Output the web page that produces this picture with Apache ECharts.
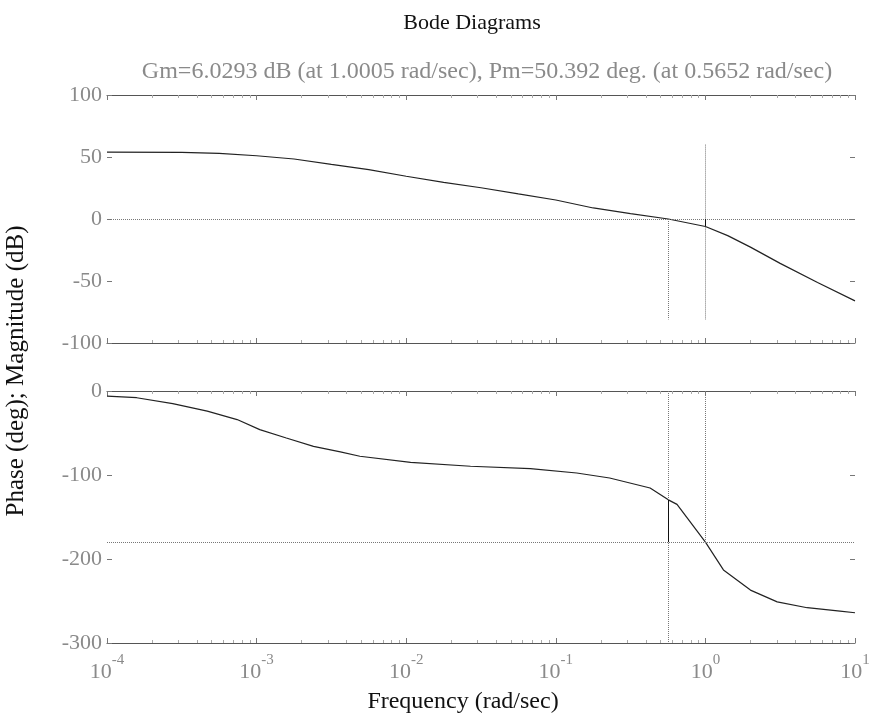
<!DOCTYPE html>
<html>
<head>
<meta charset="utf-8">
<title>Bode Diagrams</title>
<script src="https://cdn.jsdelivr.net/npm/echarts@6/dist/echarts.min.js"></script>
<style>
  html, body { margin: 0; padding: 0; background: #ffffff; }
  #chart { width: 869px; height: 719px; }
</style>
</head>
<body>
<div id="chart"></div>
<script>
  // magnitude curve (rad/sec, dB)
  var magFreq = [0.0001, 0.000316, 0.000562, 0.001, 0.00178, 0.00316, 0.00562, 0.01, 0.0178, 0.0316,
    0.0562, 0.1, 0.178, 0.316, 0.5652, 1.0005, 1.41, 2.0, 3.16, 5.62, 10];
  var magDb = [54, 53.8, 53, 51, 48.4, 44, 39.8, 34.5, 29.6, 25.2,
    20.2, 15.3, 8.9, 4.4, 0, -6.03, -13.4, -22.7, -35.8, -51.2, -66];

  // phase curve (rad/sec, deg)
  var phaseFreq = [0.0001, 0.000158, 0.000275, 0.000468, 0.000741, 0.00105, 0.00158, 0.0024, 0.00363, 0.0049,
    0.0107, 0.0269, 0.0676, 0.138, 0.229, 0.427, 0.5652, 0.646, 1.0005, 1.32,
    2.0, 3.02, 4.79, 7.94, 10];
  var phaseDeg = [-6, -8, -15, -24, -34, -46, -56, -66, -72.5, -77.7,
    -85, -89.6, -92.4, -97.6, -103.6, -115.5, -129.6, -135, -180, -213,
    -237, -251, -258, -262, -264];

  // margins
  var gmFreq = 1.0005, gm = 6.0293;
  var pmFreq = 0.5652, pm = 50.392;
  var magMarkTop = 60, magMarkBottom = -81;

  var serif = '"Liberation Serif", "DejaVu Serif", serif';
  var grey = '#8a8a8a';

  function pairs(xs, ys) {
    var out = [];
    for (var i = 0; i < xs.length; i++) {
      out.push([xs[i], ys[i]]);
    }
    return out;
  }

  var dotted = { type: 'dotted', color: '#777', width: 1 };
  var solid = { type: 'solid', color: '#111', width: 1 };

  function frameAxis(grid, pos, labels) {
    return {
      type: 'log',
      logBase: 10,
      gridIndex: grid,
      position: pos,
      min: 0.0001,
      max: 10,
      axisLine: { show: true, onZero: false, lineStyle: { color: '#555', width: 1 } },
      axisTick: { show: true, inside: true, length: 5, lineStyle: { color: '#777' } },
      minorTick: { show: true, splitNumber: 9, length: 3, lineStyle: { color: '#aaa' } },
      splitLine: { show: false },
      axisLabel: labels ? {
        show: true,
        margin: 10,
        formatter: function (v) {
          return '{b|10}{e|' + Math.round(Math.log10(v)) + '}';
        },
        rich: {
          b: { fontFamily: serif, fontSize: 22, color: grey, lineHeight: 30, verticalAlign: 'bottom' },
          e: { fontFamily: serif, fontSize: 15, color: grey, lineHeight: 15, verticalAlign: 'top' }
        }
      } : { show: false }
    };
  }

  function sideAxis(grid, pos, min, max, step, labels) {
    return {
      type: 'value',
      gridIndex: grid,
      position: pos,
      min: min,
      max: max,
      interval: step,
      axisLine: { show: false },
      axisTick: { show: true, inside: true, length: 5, lineStyle: { color: '#777' } },
      splitLine: { show: false },
      axisLabel: {
        show: labels,
        margin: 5,
        fontFamily: serif,
        fontSize: 22,
        color: grey
      }
    };
  }

  var myChart = echarts.init(document.getElementById('chart'));

  myChart.setOption({
    animation: false,
    backgroundColor: '#ffffff',
    title: [{
      text: 'Bode Diagrams',
      left: 467,
      top: 7,
      textAlign: 'center',
      textStyle: { fontFamily: serif, fontSize: 22, fontWeight: 'normal', color: '#111' }
    }, {
      text: 'Gm=6.0293 dB (at 1.0005 rad/sec), Pm=50.392 deg. (at 0.5652 rad/sec)',
      left: 482,
      top: 55,
      textAlign: 'center',
      textStyle: { fontFamily: serif, fontSize: 24, fontWeight: 'normal', color: grey }
    }, {
      text: 'Frequency (rad/sec)',
      left: 458,
      top: 685,
      textAlign: 'center',
      textStyle: { fontFamily: serif, fontSize: 24, fontWeight: 'normal', color: '#111' }
    }],
    graphic: [{
      type: 'text',
      x: 4,
      y: 371,
      rotation: Math.PI / 2,
      style: {
        text: 'Phase (deg); Magnitude (dB)',
        font: '25px ' + serif,
        fill: '#111',
        align: 'center',
        verticalAlign: 'top'
      }
    }],
    grid: [
      { left: 107, top: 95, width: 748, height: 248, outerBoundsMode: 'none' },
      { left: 107, top: 391, width: 748, height: 252, outerBoundsMode: 'none' }
    ],
    xAxis: [
      frameAxis(0, 'bottom', false),
      frameAxis(0, 'top', false),
      frameAxis(1, 'bottom', true),
      frameAxis(1, 'top', false)
    ],
    yAxis: [
      sideAxis(0, 'left', -100, 100, 50, true),
      sideAxis(0, 'right', -100, 100, 50, false),
      sideAxis(1, 'left', -300, 0, 100, true),
      sideAxis(1, 'right', -300, 0, 100, false)
    ],
    series: [{
      name: 'magnitude',
      type: 'line',
      xAxisIndex: 0,
      yAxisIndex: 0,
      data: pairs(magFreq, magDb),
      showSymbol: false,
      lineStyle: { color: '#222', width: 1.2 },
      markLine: {
        silent: true,
        symbol: 'none',
        label: { show: false },
        data: [
          [{ coord: [0.0001, 0], lineStyle: dotted }, { coord: [10, 0] }],
          [{ coord: [gmFreq, magMarkTop], lineStyle: dotted }, { coord: [gmFreq, magMarkBottom] }],
          [{ coord: [pmFreq, 0], lineStyle: dotted }, { coord: [pmFreq, magMarkBottom] }],
          [{ coord: [gmFreq, 0], lineStyle: solid }, { coord: [gmFreq, -gm] }]
        ]
      }
    }, {
      name: 'phase',
      type: 'line',
      xAxisIndex: 2,
      yAxisIndex: 2,
      data: pairs(phaseFreq, phaseDeg),
      showSymbol: false,
      lineStyle: { color: '#222', width: 1.2 },
      markLine: {
        silent: true,
        symbol: 'none',
        label: { show: false },
        data: [
          [{ coord: [0.0001, -180], lineStyle: dotted }, { coord: [10, -180] }],
          [{ coord: [gmFreq, 0], lineStyle: dotted }, { coord: [gmFreq, -180] }],
          [{ coord: [pmFreq, 0], lineStyle: dotted }, { coord: [pmFreq, -300] }],
          [{ coord: [pmFreq, -180], lineStyle: solid }, { coord: [pmFreq, -180 + pm] }]
        ]
      }
    }]
  });
</script>
</body>
</html>
